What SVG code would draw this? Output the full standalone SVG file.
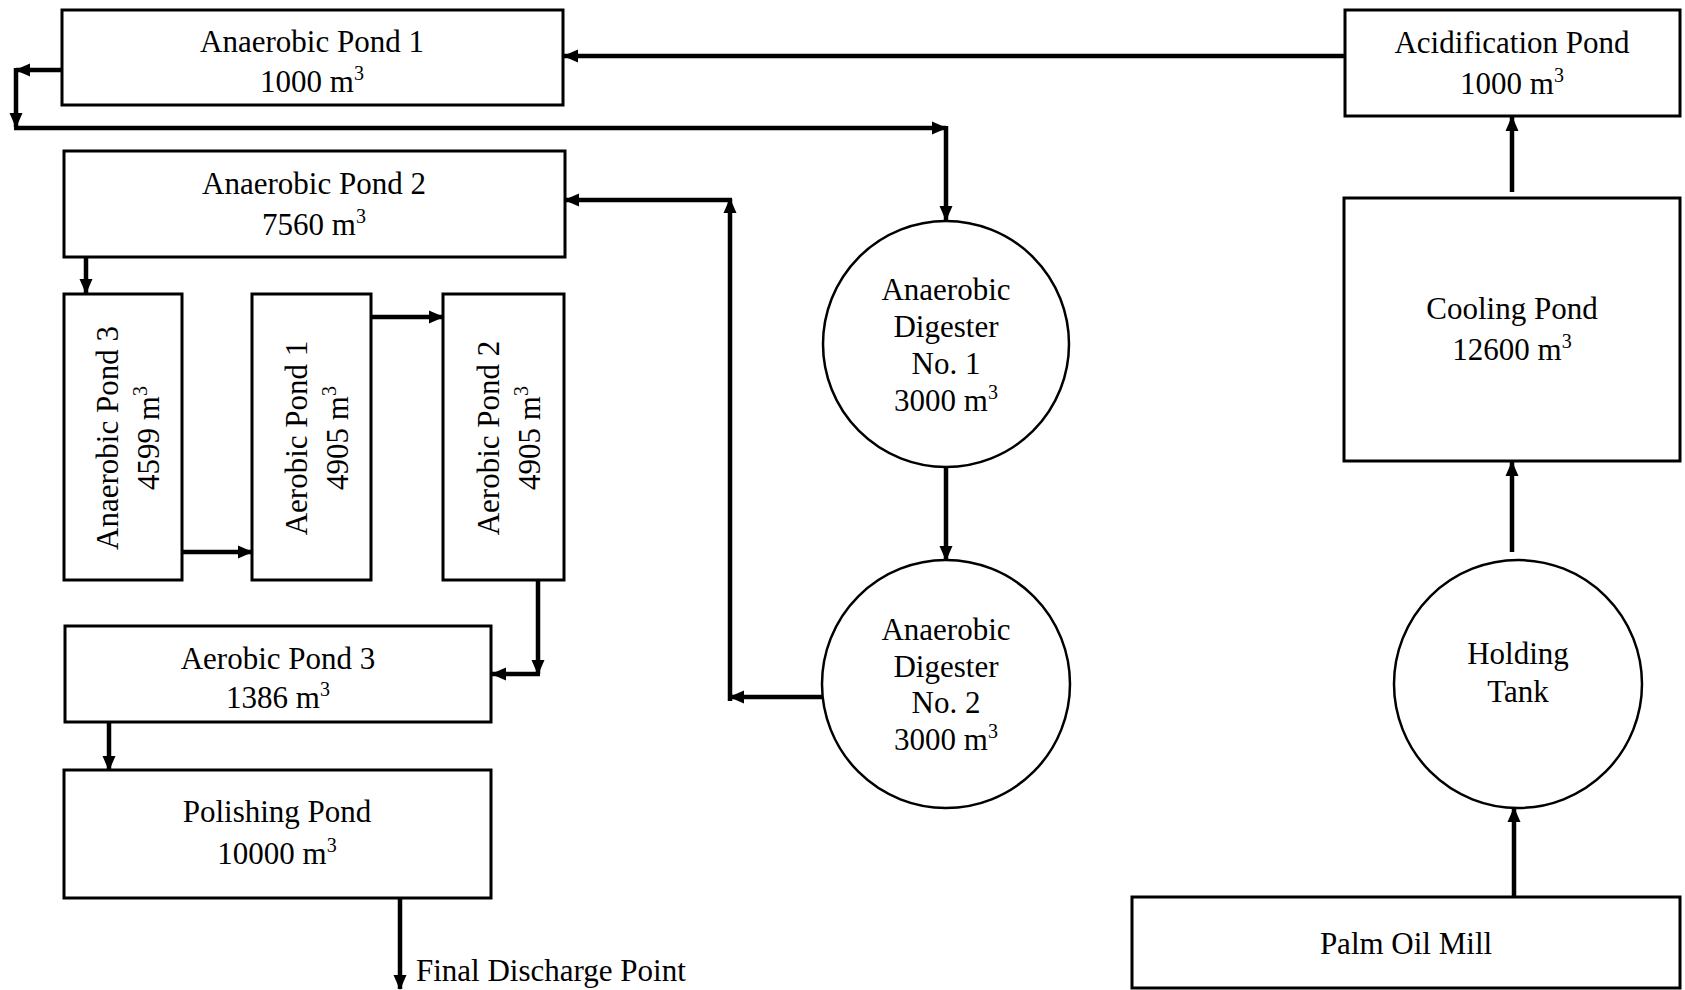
<svg xmlns="http://www.w3.org/2000/svg" width="1685" height="990" viewBox="0 0 1685 990">
<defs>
<style>
.box{fill:#fff;stroke:#000;stroke-width:3}
.circ{fill:#fff;stroke:#000;stroke-width:2.5}
.t{font-family:"Liberation Serif","Times New Roman",serif;font-size:31px;fill:#000;text-anchor:middle}
.sup{font-size:20px}
.c{fill:none;stroke:#000;stroke-width:4.5}
.a{marker-end:url(#ah)}
</style>
<marker id="ah" markerWidth="15" markerHeight="14" refX="14" refY="7" orient="auto" markerUnits="userSpaceOnUse">
<path d="M0,0.5 L15,7 L0,13.5 z" fill="#000"/>
</marker>
</defs>
<rect width="1685" height="990" fill="#fff"/>

<g id="connectors">
<path class="c a" d="M1345,56 L564,56"/>
<path class="c a" d="M62,70 L16,70"/>
<path class="c a" d="M16,68 L16,127"/>
<path class="c a" d="M14,128 L946,128"/>
<path class="c a" d="M946,126 L946,220"/>
<path class="c a" d="M86,257 L86,293"/>
<path class="c a" d="M182,552 L252,552"/>
<path class="c a" d="M371,317 L443,317"/>
<path class="c a" d="M538,580 L538,674"/>
<path class="c a" d="M540,674 L492,674"/>
<path class="c a" d="M109,722 L109,770"/>
<path class="c a" d="M400,898 L400,989"/>
<path class="c a" d="M946,467 L946,560"/>
<path class="c a" d="M822,697 L730,697"/>
<path class="c a" d="M730,701 L730,199"/>
<path class="c a" d="M732,200 L565,200"/>
<path class="c a" d="M1512,552 L1512,462"/>
<path class="c a" d="M1514,897 L1514,808"/>
<path class="c a" d="M1512,192 L1512,117"/>
</g>

<g id="anaerobic-pond-1">
<rect class="box" x="62" y="10" width="501" height="95"/>
<text class="t" x="312" y="52">Anaerobic Pond 1</text>
<text class="t" x="312" y="92">1000 m<tspan class="sup" dy="-12">3</tspan></text>
</g>

<g id="anaerobic-pond-2">
<rect class="box" x="64" y="151" width="501" height="106"/>
<text class="t" x="314" y="194">Anaerobic Pond 2</text>
<text class="t" x="314" y="235">7560 m<tspan class="sup" dy="-12">3</tspan></text>
</g>

<g id="anaerobic-pond-3">
<rect class="box" x="64" y="294" width="118" height="286"/>
<g transform="translate(123,438) rotate(-90)">
<text class="t" x="0" y="-5">Anaerobic Pond 3</text>
<text class="t" x="0" y="36">4599 m<tspan class="sup" dy="-12">3</tspan></text>
</g>
</g>

<g id="aerobic-pond-1">
<rect class="box" x="252" y="294" width="119" height="286"/>
<g transform="translate(311.5,438) rotate(-90)">
<text class="t" x="0" y="-5">Aerobic Pond 1</text>
<text class="t" x="0" y="36">4905 m<tspan class="sup" dy="-12">3</tspan></text>
</g>
</g>

<g id="aerobic-pond-2">
<rect class="box" x="443" y="294" width="121" height="286"/>
<g transform="translate(503.5,438) rotate(-90)">
<text class="t" x="0" y="-5">Aerobic Pond 2</text>
<text class="t" x="0" y="36">4905 m<tspan class="sup" dy="-12">3</tspan></text>
</g>
</g>

<g id="aerobic-pond-3">
<rect class="box" x="65" y="626" width="426" height="96"/>
<text class="t" x="278" y="669">Aerobic Pond 3</text>
<text class="t" x="278" y="708">1386 m<tspan class="sup" dy="-12">3</tspan></text>
</g>

<g id="polishing-pond">
<rect class="box" x="64" y="770" width="427" height="128"/>
<text class="t" x="277" y="822">Polishing Pond</text>
<text class="t" x="277" y="864">10000 m<tspan class="sup" dy="-12">3</tspan></text>
</g>

<g id="final-discharge">
<text class="t" x="416" y="981" style="text-anchor:start">Final Discharge Point</text>
</g>

<g id="anaerobic-digester-1">
<circle class="circ" cx="946" cy="344" r="123"/>
<text class="t" x="946" y="300">Anaerobic</text>
<text class="t" x="946" y="337">Digester</text>
<text class="t" x="946" y="374">No. 1</text>
<text class="t" x="946" y="411">3000 m<tspan class="sup" dy="-12">3</tspan></text>
</g>

<g id="anaerobic-digester-2">
<circle class="circ" cx="946" cy="684" r="124"/>
<text class="t" x="946" y="640">Anaerobic</text>
<text class="t" x="946" y="677">Digester</text>
<text class="t" x="946" y="713">No. 2</text>
<text class="t" x="946" y="750">3000 m<tspan class="sup" dy="-12">3</tspan></text>
</g>

<g id="acidification-pond">
<rect class="box" x="1345" y="10" width="335" height="106"/>
<text class="t" x="1512" y="53">Acidification Pond</text>
<text class="t" x="1512" y="94">1000 m<tspan class="sup" dy="-12">3</tspan></text>
</g>

<g id="cooling-pond">
<rect class="box" x="1344" y="198" width="336" height="263"/>
<text class="t" x="1512" y="319">Cooling Pond</text>
<text class="t" x="1512" y="360">12600 m<tspan class="sup" dy="-12">3</tspan></text>
</g>

<g id="holding-tank">
<circle class="circ" cx="1518" cy="684" r="124"/>
<text class="t" x="1518" y="664">Holding</text>
<text class="t" x="1518" y="702">Tank</text>
</g>

<g id="palm-oil-mill">
<rect class="box" x="1132" y="897" width="548" height="91"/>
<text class="t" x="1406" y="954">Palm Oil Mill</text>
</g>
</svg>
